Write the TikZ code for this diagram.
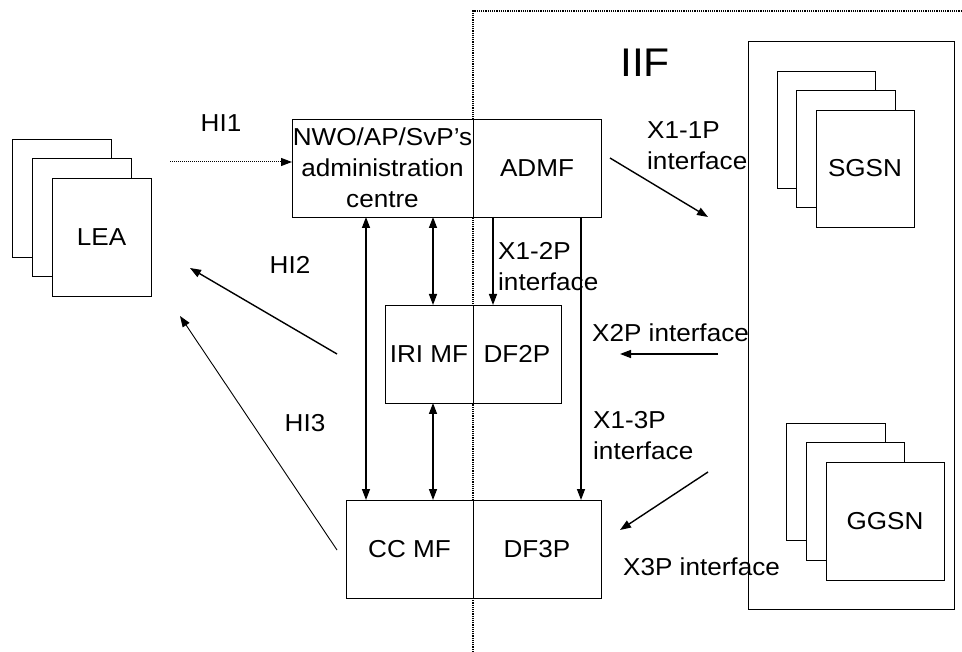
\documentclass[tikz,border=0pt]{standalone}
\usepackage{fontspec}
\setmainfont{Liberation Sans}[FakeStretch=1.065]
\usetikzlibrary{arrows.meta}
\begin{document}
\begin{tikzpicture}[x=1pt,y=-1pt,
  box/.style={draw, line width=0.8pt, fill=white, inner sep=0pt, outer sep=0pt, anchor=north west, align=center},
  tip/.style={Triangle[length=11pt,width=8pt]},
  arr/.style={line width=1.4pt, -{Triangle[length=11pt,width=8pt]}},
  darr/.style={line width=1.4pt, {Triangle[length=11pt,width=8pt]}-{Triangle[length=11pt,width=8pt]}},
  lbl/.style={inner sep=0pt, align=left}
]
\useasboundingbox (0,0) rectangle (962,652);
\tikzset{every node/.style={font=\fontsize{24.5}{31}\selectfont}}
% boundary
\draw[densely dotted, line width=1.2pt] (473,652) -- (473,11) -- (962,11);
% LEA stack
\node[box, minimum width=99pt, minimum height=118pt] (lea3) at (12,139) {};
\node[box, minimum width=99pt, minimum height=118pt] (lea2) at (32,158) {};
\node[box, minimum width=99pt, minimum height=118pt] (lea) at (52,178) {LEA};
% admin
\node[box, minimum width=181pt, minimum height=98pt] (admL) at (292,119) {NWO/AP/SvP’s\\administration\\centre};
\node[box, minimum width=128pt, minimum height=98pt] (admR) at (473,119) {ADMF};
% IRI
\node[box, minimum width=88pt, minimum height=98pt] (iriL) at (385,305) {IRI MF};
\node[box, minimum width=88pt, minimum height=98pt] (iriR) at (473,305) {DF2P};
% CC
\node[box, minimum width=127pt, minimum height=98pt] (ccL) at (346,500) {CC MF};
\node[box, minimum width=128pt, minimum height=98pt] (ccR) at (473,500) {DF3P};
% IIF
\node[box, minimum width=206pt, minimum height=568pt] (iif) at (748,41) {};
\node[inner sep=0pt, font=\fontsize{40}{48}\selectfont] (iiflbl) at (645,63) {IIF};
% SGSN stack
\node[box, minimum width=98pt, minimum height=117pt] (sg3) at (777,71) {};
\node[box, minimum width=99pt, minimum height=117pt] (sg2) at (796,90) {};
\node[box, minimum width=98pt, minimum height=117pt] (sgsn) at (816,110) {SGSN};
% GGSN stack
\node[box, minimum width=99pt, minimum height=117pt] (gg3) at (786,423) {};
\node[box, minimum width=98pt, minimum height=118pt] (gg2) at (806,442) {};
\node[box, minimum width=118pt, minimum height=118pt] (ggsn) at (826,462) {GGSN};
% free ends
\coordinate (hi1s) at (170,162);
\coordinate (hi2s) at (337,354);
\coordinate (hi2e) at (190,268);
\coordinate (hi3s) at (337,550);
\coordinate (hi3e) at (180,316);
\coordinate (x11s) at (610,158);
\coordinate (x11e) at (708,217);
\coordinate (x2s) at (718,354);
\coordinate (x2e) at (620,354);
\coordinate (x3s) at (708,472);
\coordinate (x3e) at (620,530);
% connectors
\draw[line width=1pt, densely dotted, -{Triangle[length=11pt,width=8pt]}] (hi1s) -- ([yshift=6pt]admL.west);
\draw[arr] (hi2s) -- (hi2e);
\draw[line width=0.9pt, -{Triangle[length=11pt,width=8pt]}] (hi3s) -- (hi3e);
\draw[arr] (x11s) -- (x11e);
\draw[arr] (x2s) -- (x2e);
\draw[arr] (x3s) -- (x3e);
\draw[darr] ([xshift=74pt]admL.south west) -- ([xshift=20pt]ccL.north west);
\draw[darr] ([xshift=141pt]admL.south west) -- ([xshift=48pt]iriL.north west);
\draw[arr] ([xshift=20pt]admR.south west) -- ([xshift=20pt]iriR.north west);
\draw[arr] ([xshift=108pt]admR.south west) -- ([xshift=108pt]ccR.north west);
\draw[darr] ([xshift=48pt]iriL.south west) -- ([xshift=87pt]ccL.north west);
% labels
\node[lbl] (lhi1) at (221,123) {HI1};
\node[lbl] (lhi2) at (290,265) {HI2};
\node[lbl] (lhi3) at (305,423) {HI3};
\node[lbl, anchor=west] (lx11) at (647,146) {X1-1P\\interface};
\node[lbl, anchor=west] (lx12) at (498,267) {X1-2P\\interface};
\node[lbl, anchor=west] (lx2) at (592,333) {X2P interface};
\node[lbl, anchor=west] (lx13) at (593,436) {X1-3P\\interface};
\node[lbl, anchor=west] (lx3) at (623,567) {X3P interface};
\end{tikzpicture}
\end{document}
